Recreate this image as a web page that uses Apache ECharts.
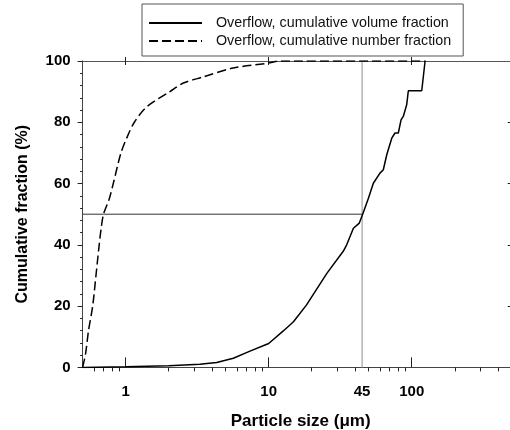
<!DOCTYPE html>
<html>
<head>
<meta charset="utf-8">
<script src="https://cdn.jsdelivr.net/npm/echarts@6/dist/echarts.min.js"></script>
<style>
  html, body { margin: 0; padding: 0; background: #fff; }
  #chart { width: 510px; height: 430px; }
</style>
</head>
<body>
<div id="chart"></div>
<script>
// particle size (um) and cumulative fraction (%)
var volSize = [0.5, 1, 2, 3.3, 4.33, 5.66, 7.4, 10, 12.65, 14.9, 18.4, 25.5, 33.2, 35.1, 39.1, 43, 45.4, 49.8, 53.9, 60, 63.3, 66.9, 72.5, 76.4, 80.6, 84.2, 87.3, 92.2, 94.7, 117.5, 124]
var volCum = [0, 0.2, 0.5, 1.0, 1.6, 3.0, 5.3, 7.8, 11.9, 14.9, 20.4, 30.7, 37.9, 40, 45.4, 47.1, 50, 55.2, 60.1, 63.4, 64.5, 69.4, 74.8, 76.5, 76.5, 80.8, 81.9, 85.7, 90.3, 90.3, 100]

var numSize = [0.5, 0.525, 0.55, 0.588, 0.62, 0.653, 0.672, 0.70, 0.768, 0.819, 0.927, 1.02, 1.15, 1.40, 2.04, 2.53, 3.49, 5.65, 9.9, 12, 125]
var numCum = [0, 4.6, 12, 20, 30, 40, 44.9, 50, 55, 60, 70, 75, 80, 85, 90, 92.8, 94.8, 97.7, 99.3, 100, 100]

var xLabels = [1, 10, 45, 100]
var xMajor = [1, 10, 100]
var xMinor = [0.6, 0.7, 0.8, 0.9, 2, 3, 4, 5, 6, 7, 8, 9, 20, 30, 40, 50, 60, 70, 80, 90, 200, 300, 400]
var yRightTicks = [20, 40, 60, 80]

// d50 guide lines
var d50 = 45
var half = 50

var names = ['Overflow, cumulative volume fraction', 'Overflow, cumulative number fraction']

function zip(xs, ys) {
  return xs.map(function (x, i) { return [x, ys[i]] })
}

var chart = echarts.init(document.getElementById('chart'))

var labelFont = { fontFamily: 'Liberation Sans, Arial', fontWeight: 'bold', fontSize: 15, color: '#000' }

function logAxis(extra) {
  return Object.assign({
    type: 'log',
    logBase: 10,
    min: 0.5,
    max: 500,
    gridIndex: 0,
    splitLine: { show: false },
    axisLine: { show: false },
    axisTick: { show: false },
    axisLabel: { show: false }
  }, extra)
}

chart.setOption({
  animation: false,
  legend: {
    data: names,
    orient: 'vertical',
    left: 142,
    top: 4,
    itemWidth: 53,
    itemHeight: 14,
    itemGap: 2,
    padding: [11, 12, 7, 6],
    borderColor: '#555',
    borderWidth: 1,
    selectedMode: false,
    itemStyle: { color: 'rgba(0,0,0,0)', borderWidth: 0, opacity: 0 },
    textStyle: {
      fontFamily: 'Liberation Sans, Arial',
      fontSize: 14.3,
      lineHeight: 16,
      color: '#111',
      padding: [0, 0, 0, 9]
    }
  },
  grid: { left: 82.6, top: 61, right: -1.7, bottom: 62.6, outerBoundsMode: 'none', containLabel: false },
  xAxis: [
    logAxis({
      position: 'bottom',
      name: 'Particle size (μm)',
      nameLocation: 'middle',
      nameGap: 45,
      nameTextStyle: { fontFamily: 'Liberation Sans, Arial', fontWeight: 'bold', fontSize: 17, color: '#000', padding: [0, 0, 0, 7] },
      axisLine: { show: true, lineStyle: { color: '#444', width: 1 } },
      axisTick: { show: true, customValues: xMinor, length: 4, lineStyle: { color: '#222' } },
      axisLabel: Object.assign({ show: true, customValues: xLabels, margin: 17 }, labelFont)
    }),
    logAxis({
      position: 'bottom',
      offset: 5,
      axisTick: { show: true, inside: true, customValues: xMajor, length: 10, lineStyle: { color: '#222' } }
    }),
    logAxis({
      position: 'top',
      axisLine: { show: true, lineStyle: { color: '#555', width: 1 } }
    }),
    logAxis({
      position: 'top',
      offset: 4,
      axisTick: { show: true, inside: true, customValues: xMajor, length: 8, lineStyle: { color: '#222' } }
    })
  ],
  yAxis: [
    {
      type: 'value',
      position: 'left',
      min: 0,
      max: 100,
      interval: 20,
      name: 'Cumulative fraction (%)',
      nameLocation: 'middle',
      nameGap: 52,
      nameTextStyle: { fontFamily: 'Liberation Sans, Arial', fontWeight: 'bold', fontSize: 16, color: '#000' },
      splitLine: { show: false },
      axisLine: { show: true, lineStyle: { color: '#444', width: 1 } },
      axisTick: { show: true, length: 5, lineStyle: { color: '#222' } },
      minorTick: { show: true, splitNumber: 5, length: 2.5, lineStyle: { color: '#222' } },
      axisLabel: Object.assign({ margin: 12 }, labelFont)
    },
    {
      type: 'value',
      position: 'right',
      min: 0,
      max: 100,
      splitLine: { show: false },
      axisLine: { show: false },
      axisTick: { show: true, inside: true, customValues: yRightTicks, length: 4, lineStyle: { color: '#222' } },
      axisLabel: { show: false }
    }
  ],
  series: [
    {
      name: names[0],
      type: 'line',
      data: zip(volSize, volCum),
      symbol: 'none',
      lineStyle: { color: '#000', width: 1.5, type: 'solid' },
      itemStyle: { color: '#000' },
      z: 5
    },
    {
      name: names[1],
      type: 'line',
      data: zip(numSize, numCum),
      symbol: 'none',
      smooth: 0.3,
      lineStyle: { color: '#000', width: 1.5, type: [9, 4] },
      itemStyle: { color: '#000' },
      z: 5
    },
    {
      name: 'd50 size',
      type: 'line',
      data: [[d50, 0], [d50, 100]],
      symbol: 'none',
      silent: true,
      lineStyle: { color: '#a0a0a0', width: 1.2 },
      z: 3
    },
    {
      name: 'half',
      type: 'line',
      data: [[0.5, half], [d50, half]],
      symbol: 'none',
      silent: true,
      lineStyle: { color: '#333', width: 1 },
      z: 3
    }
  ]
})
</script>
</body>
</html>
